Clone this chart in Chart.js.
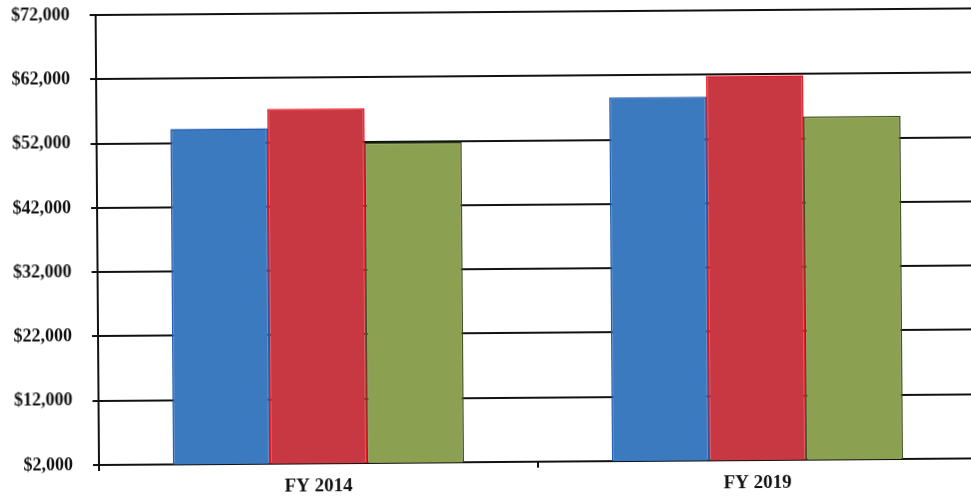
<!DOCTYPE html>
<html>
<head>
<meta charset="utf-8">
<script src="https://cdn.jsdelivr.net/npm/chart.js@4"></script>
<style>
  html, body { margin: 0; padding: 0; background: #fff; overflow: hidden; width: 971px; height: 502px; }
  #wrap { position: absolute; left: 0; top: 0; width: 980px; height: 502px; transform: rotate(-0.43deg); transform-origin: 99px 465px; }
  canvas { display: block; }
</style>
</head>
<body>
<div id="wrap"><canvas id="chart" width="980" height="502"></canvas></div>
<script>
// Fiscal years on the category axis
const categories = ['FY 2014', 'FY 2019'];

// Salary series (three groups of bars per year)
const seriesBlue  = [54200, 58600];
const seriesRed   = [57200, 61800];
const seriesGreen = [51800, 55400];

// Value axis range and step
const yMin = 2000;
const yMax = 72000;
const yStep = 10000;

const serif = '"Liberation Serif", "Times New Roman", serif';
const xTickFont = { family: serif, size: 19, weight: 'bold' };
const yTickFont = { family: serif, size: 18, weight: 'bold' };

new Chart(document.getElementById('chart'), {
  type: 'bar',
  data: {
    labels: categories,
    datasets: [
      { data: seriesBlue,  backgroundColor: 'rgb(60,122,192)',  borderColor: 'rgb(30,90,175)', borderWidth: 1.5 },
      { data: seriesRed,   backgroundColor: 'rgb(200,56,66)',   borderColor: 'rgb(235,20,30)', borderWidth: 1.5 },
      { data: seriesGreen, backgroundColor: 'rgb(140,160,82)',  borderColor: 'rgb(60,78,30)',  borderWidth: 1.5 }
    ]
  },
  options: {
    responsive: false,
    animation: false,
    layout: { padding: { left: 0, right: 3, top: 15, bottom: 0 } },
    plugins: { legend: { display: false }, tooltip: { enabled: false } },
    datasets: { bar: { categoryPercentage: 0.663, barPercentage: 1.0 } },
    scales: {
      x: {
        offset: true,
        grid: { offset: true, drawOnChartArea: false, drawTicks: true, tickLength: 6, color: '#111', lineWidth: 2 },
        border: { display: true, color: '#111', width: 2 },
        ticks: { color: '#111', font: xTickFont, padding: 6, maxRotation: 0 },
        afterFit: (s) => { s.height = 502 - 465; s.paddingLeft = 0; s.paddingRight = 0; }
      },
      y: {
        min: yMin,
        max: yMax,
        grid: { color: '#111', lineWidth: 2, drawTicks: true, tickLength: 6 },
        border: { display: true, color: '#111', width: 2 },
        ticks: {
          stepSize: yStep,
          color: '#111',
          font: yTickFont,
          padding: 20,
          callback: (v) => '$' + Number(v).toLocaleString('en-US')
        },
        afterFit: (s) => { s.width = 99; s.paddingTop = 0; s.paddingBottom = 0; }
      }
    }
  }
});
</script>
</body>
</html>
